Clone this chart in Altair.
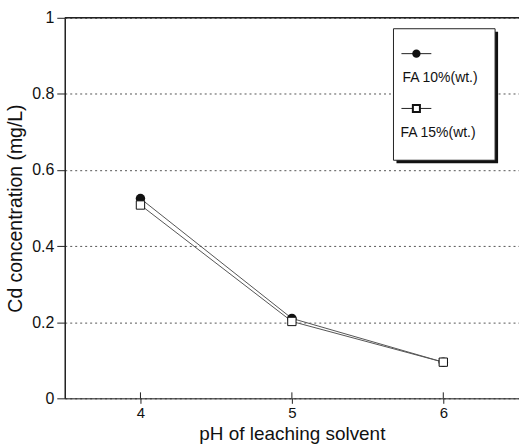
import altair as alt
import pandas as pd

# Leaching results: Cd concentration vs. pH of the leaching solvent
ph = [4, 5, 6]
fa10 = [0.525, 0.21, 0.095]
fa15 = [0.508, 0.202, 0.095]
series_names = ["FA 10%(wt.)", "FA 15%(wt.)"]

df = pd.DataFrame(
    {"ph": ph * 2,
     "cd": fa10 + fa15,
     "series": [series_names[0]] * 3 + [series_names[1]] * 3}
)

W, H = 456, 382
FONT = "Liberation Sans"

x = alt.X("ph:Q", scale=alt.Scale(domain=[3.5, 6.5], nice=False),
          axis=alt.Axis(values=[4, 5, 6], format="d", title="pH of leaching solvent", grid=False,
                        tickSize=5, labelFontSize=15, titleFontSize=19, labelPadding=2,
                        titlePadding=4, titleBaseline="top", domainColor="#222", tickColor="#222",
                        labelColor="#111", titleColor="#111", titleFontWeight="normal"))
y = alt.Y("cd:Q", scale=alt.Scale(domain=[0, 1], nice=False),
          axis=alt.Axis(values=[0, 0.2, 0.4, 0.6, 0.8, 1], title="Cd concentration (mg/L)",
                        format="~g", tickSize=8, labelFontSize=16, titleFontSize=19.5,
                        labelPadding=3, titlePadding=6, gridDash=[2, 3],
                        gridColor="#555", gridWidth=1, domainColor="#222",
                        domainWidth=1.5, tickColor="#222", labelColor="#111",
                        titleColor="#111", titleFontWeight="normal"))

base = alt.Chart(df)

lines = base.mark_line(color="#555", strokeWidth=1).encode(x=x, y=y, detail="series:N")

pts10 = base.transform_filter(alt.datum.series == series_names[0]).mark_point(
    shape="circle", filled=True, color="#111", size=90, opacity=1
).encode(x="ph:Q", y="cd:Q")

pts15 = base.transform_filter(alt.datum.series == series_names[1]).mark_point(
    shape="square", filled=True, fill="white", stroke="#111", strokeWidth=1, size=70, opacity=1
).encode(x="ph:Q", y="cd:Q")

# inner halves of the x ticks (ticks cross the axis line)
inner_ticks = alt.Chart(pd.DataFrame({"ph": ph})).mark_rule(color="#222").encode(
    x="ph:Q", y=alt.value(H - 6), y2=alt.value(H)
)

# top frame line
top_line = alt.Chart(pd.DataFrame({"v": [1]})).mark_rule(color="#222", strokeWidth=1.5).encode(
    y="v:Q", x=alt.value(0), x2=alt.value(W)
)

# legend box with drop shadow
one = pd.DataFrame({"k": [0]})
shadow = alt.Chart(one).mark_rect(color="#111").encode(
    x=alt.value(333), x2=alt.value(435), y=alt.value(14), y2=alt.value(146)
)
box = alt.Chart(one).mark_rect(fill="white", stroke="#222", strokeWidth=1).encode(
    x=alt.value(330), x2=alt.value(432), y=alt.value(11), y2=alt.value(143)
)
leg_line1 = alt.Chart(one).mark_rule(color="#222").encode(
    x=alt.value(338), x2=alt.value(368), y=alt.value(36)
)
leg_line2 = alt.Chart(one).mark_rule(color="#222").encode(
    x=alt.value(338), x2=alt.value(368), y=alt.value(91)
)
leg_sym1 = alt.Chart(one).mark_point(
    shape="circle", filled=True, color="#111", size=70, opacity=1
).encode(x=alt.value(353), y=alt.value(36))
leg_sym2 = alt.Chart(one).mark_point(
    shape="square", filled=True, fill="white", stroke="#111", size=50, opacity=1
).encode(x=alt.value(353), y=alt.value(91))
leg_text1 = alt.Chart(pd.DataFrame({"t": [series_names[0]]})).mark_text(
    align="left", baseline="middle", font=FONT, fontSize=14, color="#111"
).encode(text="t:N", x=alt.value(339), y=alt.value(60))
leg_text2 = alt.Chart(pd.DataFrame({"t": [series_names[1]]})).mark_text(
    align="left", baseline="middle", font=FONT, fontSize=14, color="#111"
).encode(text="t:N", x=alt.value(337), y=alt.value(116))

chart = alt.layer(
    lines, pts10, pts15, inner_ticks, top_line,
    shadow, box, leg_line1, leg_line2, leg_sym1, leg_sym2, leg_text1, leg_text2
).properties(
    width=W, height=H,
    autosize=alt.AutoSizeParams(type="none"),
    padding={"left": 65, "top": 17, "right": 0, "bottom": 47},
).configure_view(strokeWidth=0).configure(font=FONT, background="white")

chart.save("out.html", embed_options={"renderer": "svg", "actions": False})
